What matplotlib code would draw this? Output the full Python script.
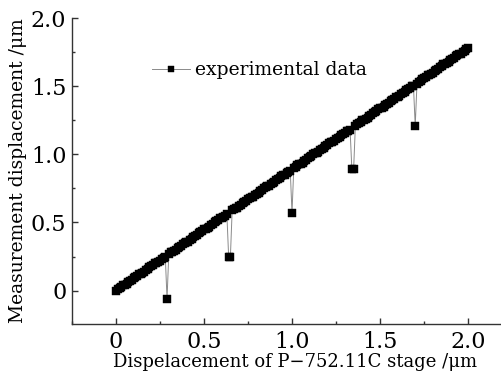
import matplotlib
matplotlib.use("Agg")
import matplotlib.pyplot as plt
from matplotlib.ticker import FixedLocator, FixedFormatter

plt.rcParams['font.family'] = ['DejaVu Serif']

stage_um = [
    0.00, 0.01, 0.02, 0.03, 0.04, 0.05, 0.06, 0.07, 0.08, 0.09,
    0.10, 0.11, 0.12, 0.13, 0.14, 0.15, 0.16, 0.17, 0.18, 0.19,
    0.20, 0.21, 0.22, 0.23, 0.24, 0.25, 0.26, 0.27, 0.28, 0.29,
    0.30, 0.31, 0.32, 0.33, 0.34, 0.35, 0.36, 0.37, 0.38, 0.39,
    0.40, 0.41, 0.42, 0.43, 0.44, 0.45, 0.46, 0.47, 0.48, 0.49,
    0.50, 0.51, 0.52, 0.53, 0.54, 0.55, 0.56, 0.57, 0.58, 0.59,
    0.60, 0.61, 0.62, 0.63, 0.64, 0.65, 0.66, 0.67, 0.68, 0.69,
    0.70, 0.71, 0.72, 0.73, 0.74, 0.75, 0.76, 0.77, 0.78, 0.79,
    0.80, 0.81, 0.82, 0.83, 0.84, 0.85, 0.86, 0.87, 0.88, 0.89,
    0.90, 0.91, 0.92, 0.93, 0.94, 0.95, 0.96, 0.97, 0.98, 0.99,
    1.00, 1.01, 1.02, 1.03, 1.04, 1.05, 1.06, 1.07, 1.08, 1.09,
    1.10, 1.11, 1.12, 1.13, 1.14, 1.15, 1.16, 1.17, 1.18, 1.19,
    1.20, 1.21, 1.22, 1.23, 1.24, 1.25, 1.26, 1.27, 1.28, 1.29,
    1.30, 1.31, 1.32, 1.33, 1.34, 1.35, 1.36, 1.37, 1.38, 1.39,
    1.40, 1.41, 1.42, 1.43, 1.44, 1.45, 1.46, 1.47, 1.48, 1.49,
    1.50, 1.51, 1.52, 1.53, 1.54, 1.55, 1.56, 1.57, 1.58, 1.59,
    1.60, 1.61, 1.62, 1.63, 1.64, 1.65, 1.66, 1.67, 1.68, 1.69,
    1.70, 1.71, 1.72, 1.73, 1.74, 1.75, 1.76, 1.77, 1.78, 1.79,
    1.80, 1.81, 1.82, 1.83, 1.84, 1.85, 1.86, 1.87, 1.88, 1.89,
    1.90, 1.91, 1.92, 1.93, 1.94, 1.95, 1.96, 1.97, 1.98, 1.99,
    2.00,
]

measured_um = [
    0.00, 0.01, 0.02, 0.03, 0.04, 0.04, 0.05, 0.06, 0.07, 0.08,
    0.09, 0.10, 0.11, 0.12, 0.12, 0.13, 0.14, 0.15, 0.16, 0.17,
    0.18, 0.19, 0.20, 0.20, 0.21, 0.22, 0.23, 0.24, 0.25, -0.06,
    0.27, 0.28, 0.28, 0.29, 0.30, 0.31, 0.32, 0.33, 0.34, 0.35,
    0.36, 0.36, 0.37, 0.38, 0.39, 0.40, 0.41, 0.42, 0.43, 0.44,
    0.45, 0.45, 0.46, 0.47, 0.48, 0.49, 0.50, 0.51, 0.52, 0.53,
    0.53, 0.54, 0.55, 0.56, 0.25, 0.25, 0.59, 0.60, 0.61, 0.61,
    0.62, 0.63, 0.64, 0.65, 0.66, 0.67, 0.68, 0.69, 0.69, 0.70,
    0.71, 0.72, 0.73, 0.74, 0.75, 0.76, 0.77, 0.77, 0.78, 0.79,
    0.80, 0.81, 0.82, 0.83, 0.84, 0.85, 0.85, 0.86, 0.87, 0.88,
    0.57, 0.90, 0.91, 0.92, 0.93, 0.93, 0.94, 0.95, 0.96, 0.97,
    0.98, 0.99, 1.00, 1.01, 1.01, 1.02, 1.03, 1.04, 1.05, 1.06,
    1.07, 1.08, 1.09, 1.09, 1.10, 1.11, 1.12, 1.13, 1.14, 1.15,
    1.16, 1.17, 1.17, 1.18, 0.89, 0.89, 1.21, 1.22, 1.23, 1.24,
    1.25, 1.25, 1.26, 1.27, 1.28, 1.29, 1.30, 1.31, 1.32, 1.33,
    1.34, 1.34, 1.35, 1.36, 1.37, 1.38, 1.39, 1.40, 1.41, 1.42,
    1.42, 1.43, 1.44, 1.45, 1.46, 1.47, 1.48, 1.49, 1.50, 1.50,
    1.21, 1.52, 1.53, 1.54, 1.55, 1.56, 1.57, 1.58, 1.58, 1.59,
    1.60, 1.61, 1.62, 1.63, 1.64, 1.65, 1.66, 1.66, 1.67, 1.68,
    1.69, 1.70, 1.71, 1.72, 1.73, 1.74, 1.74, 1.75, 1.76, 1.77,
    1.78,
]

tick_values = [0, 0.5, 1.0, 1.5, 2.0]
tick_labels = ["0", "0.5", "1.0", "1.5", "2.0"]
minor_values = [-0.25, 0.25, 0.75, 1.25, 1.75]

fig = plt.figure(figsize=(5.02, 3.73), dpi=100)
ax = fig.add_axes([0.1434, 0.1314, 0.8566, 0.820])

ax.plot(stage_um, measured_um, '-', color='#8a8a8a', lw=0.7,
        marker='s', ms=5.2, mfc='black', mec='black', mew=0.3,
        label='experimental data')

ax.set_xlim(-0.25, 2.193)
ax.set_ylim(-0.245, 2.0)

for s in ['top', 'right']:
    ax.spines[s].set_visible(False)
for s in ['left', 'bottom']:
    ax.spines[s].set_color('#333333')
    ax.spines[s].set_linewidth(1.0)

ax.xaxis.set_major_locator(FixedLocator(tick_values))
ax.xaxis.set_major_formatter(FixedFormatter(tick_labels))
ax.yaxis.set_major_locator(FixedLocator(tick_values))
ax.yaxis.set_major_formatter(FixedFormatter(tick_labels))
ax.xaxis.set_minor_locator(FixedLocator(minor_values))
ax.yaxis.set_minor_locator(FixedLocator(minor_values))

ax.tick_params(which='major', direction='in', length=4, width=1.0,
               color='#333333', labelsize=16)
ax.tick_params(axis='x', which='major', pad=5)
ax.tick_params(axis='y', which='major', pad=4)
ax.tick_params(which='minor', direction='in', length=2.5, width=1.0,
               color='#333333')

ax.set_xlabel('Dispelacement of P\u2212752.11C stage /\u03bcm', fontsize=13, labelpad=0)
ax.set_ylabel('Measurement displacement /\u03bcm', fontsize=13.5, labelpad=3)
ax.xaxis.set_label_coords(0.519, -0.095)

leg = ax.legend(loc='center left', bbox_to_anchor=(0.165, 0.83), frameon=False,
                fontsize=13.5, handlelength=2.0, handletextpad=0.3, borderpad=0,
                markerscale=0.75)

fig.savefig('out.png', dpi=100)
